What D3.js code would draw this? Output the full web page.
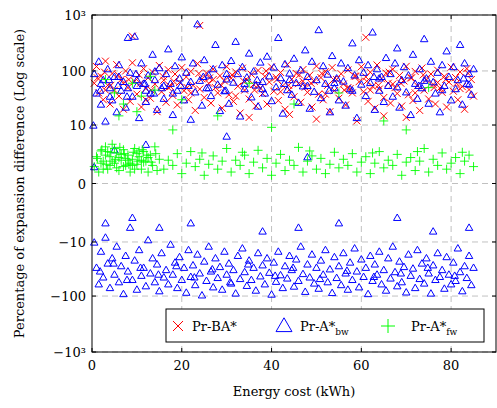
<!DOCTYPE html>
<html>
<head>
<meta charset="utf-8">
<script src="https://cdn.jsdelivr.net/npm/d3@7"></script>
<style>
  body { margin: 0; background: #fff; }
</style>
</head>
<body>
<svg id="chart" width="497" height="408" font-family="'DejaVu Serif', 'Liberation Serif', serif"></svg>
<script>
const xTicks = [0, 20, 40, 60, 80];
const yTicks = [-1000, -100, -10, 0, 10, 100, 1000];
const yTickLabels = ["−10³", "−100", "−10", "0", "10", "100", "10³"];

// Pr-BA* (red crosses)
const prBA = [
  [0.5,60],[1,120],[1.5,40],[2,80],[2.5,30],[3,150],[3.5,55],[4,25],[4.5,90],[5,45],[5.5,130],[6,35],[6.5,70],[7,20],[7.5,100],[8,50],[8.5,28],[9,140],[9.5,65],[10,38],
  [10.5,85],[11,22],[11.5,110],[12,48],[12.5,75],[13,32],[13.5,95],[14,58],[14.5,18],[15,125],[15.5,42],[16,68],[16.5,27],[17,105],[17.5,52],[18,36],[18.5,88],[19,24],[19.5,62],[20,115],
  [20.5,44],[21,78],[21.5,30],[22,98],[22.5,55],[23,19],[23.5,135],[24,47],[24.5,72],[25,33],[25.5,92],[26,60],[26.5,26],[27,108],[27.5,50],[28,40],[28.5,82],[29,21],[29.5,66],[30,120],
  [30.5,37],[31,74],[31.5,28],[32,96],[32.5,53],[33,17],[33.5,112],[34,45],[34.5,69],[35,31],[35.5,87],[36,57],[36.5,23],[37,102],[37.5,49],[38,39],[38.5,80],[39,25],[39.5,63],[40,118],
  [40.5,43],[41,77],[41.5,29],[42,94],[42.5,54],[43,20],[43.5,130],[44,46],[44.5,71],[45,34],[45.5,90],[46,59],[46.5,27],[47,106],[47.5,51],[48,41],[48.5,84],[49,22],[49.5,65],[50,122],
  [50.5,38],[51,76],[51.5,30],[52,97],[52.5,55],[53,18],[53.5,115],[54,44],[54.5,70],[55,32],[55.5,89],[56,58],[56.5,24],[57,104],[57.5,48],[58,40],[58.5,81],[59,12],[59.5,64],[60,119],
  [60.5,42],[61,78],[61.5,28],[62,95],[62.5,53],[63,21],[63.5,128],[64,47],[64.5,72],[65,33],[65.5,91],[66,60],[66.5,26],[67,107],[67.5,50],[68,39],[68.5,83],[69,23],[69.5,66],[70,121],
  [70.5,37],[71,75],[71.5,29],[72,98],[72.5,54],[73,19],[73.5,113],[74,45],[74.5,69],[75,31],[75.5,88],[76,57],[76.5,25],[77,103],[77.5,49],[78,41],[78.5,80],[79,22],[79.5,63],[80,117],
  [80.5,43],[81,76],[81.5,30],[82,96],[82.5,52],[83,20],[83.5,110],[84,46],[84.5,70],[85,35],
  [3,45],[7,60],[12,30],[17,50],[22,40],[27,70],[32,35],[37,55],[42,42],[47,65],[52,38],[57,50],[62,45],[67,58],[72,40],[77,62],[82,48],[9,420],[24,650],[61,400],
  [1.2,75],[2.8,95],[4.2,55],[5.8,85],[8.2,70],[10.8,60],[13.2,45],[15.8,80],[18.2,65],[21.2,50],[23.8,90],[26.2,75],[28.8,55],[31.2,85],[33.8,65],[36.2,45],[38.8,100],[41.2,70],[43.8,55],[46.2,85],
  [48.8,60],[51.2,90],[53.8,70],[56.2,45],[58.8,80],[61.2,65],[63.8,55],[66.2,95],[68.8,60],[71.2,75],[73.8,85],[76.2,50],[78.8,70],[81.2,60],[83.8,90],[35,14],[50,13],[65,15],[44,16],[70,14]
];

// Pr-A*bw (blue triangles), positive part
const prAbwPos = [
  [0.5,90],[1,40],[1.5,150],[2,25],[2.5,70],[3,12],[3.5,110],[4,50],[4.5,30],[5,80],[5.5,18],[6,130],[6.5,45],[7,65],[7.5,22],[8,400],[8.5,95],[9,35],[9.5,420],[10,55],
  [10.5,14],[11,140],[11.5,60],[12,28],[12.5,85],[13,40],[13.5,200],[14,70],[14.5,20],[15,115],[15.5,50],[16,32],[16.5,90],[17,250],[17.5,60],[18,16],[18.5,125],[19,45],[19.5,75],[20,180],
  [20.5,30],[21,95],[21.5,55],[22,13],[22.5,140],[23,42],[23.5,700],[24,68],[24.5,24],[25,160],[25.5,50],[26,85],[26.5,36],[27,110],[27.5,300],[28,58],[28.5,19],[29,130],[29.5,44],[30,72],
  [30.5,26],[31,155],[31.5,63],[32,340],[32.5,90],[33,15],[33.5,120],[34,48],[34.5,78],[35,210],[35.5,34],[36,100],[36.5,56],[37,23],[37.5,145],[38,65],[38.5,40],[39,185],[39.5,82],[40,29],
  [40.5,118],[41,52],[41.5,400],[42,76],[42.5,17],[43,135],[43.5,46],[44,92],[44.5,38],[45,170],[45.5,62],[46,27],[46.5,105],[47,54],[47.5,240],[48,80],[48.5,21],[49,150],[49.5,43],[50,70],
  [50.5,550],[51,33],[51.5,125],[52,60],[52.5,88],[53,18],[53.5,190],[54,50],[54.5,75],[55,30],[55.5,140],[56,66],[56.5,24],[57,115],[57.5,48],[58,320],[58.5,85],[59,14],[59.5,160],[60,58],
  [60.5,95],[61,36],[61.5,130],[62,62],[62.5,500],[63,20],[63.5,110],[64,45],[64.5,80],[65,28],[65.5,175],[66,55],[66.5,90],[67,35],[67.5,140],[68,260],[68.5,22],[69,70],[69.5,120],[70,42],
  [70.5,85],[71,16],[71.5,200],[72,60],[72.5,32],[73,110],[73.5,50],[74,380],[74.5,75],[75,26],[75.5,150],[76,64],[76.5,40],[77,95],[77.5,18],[78,130],[78.5,55],[79,230],[79.5,80],[80,30],
  [80.5,120],[81,48],[81.5,70],[82,300],[82.5,25],[83,140],[83.5,60],[84,90],[84.5,38],[85,110],
  [2,60],[4,35],[6,80],[8,50],[10,70],[12,45],[14,100],[16,55],[18,40],[22,65],[26,50],[30,90],[34,60],[38,48],[44,70],[48,55],[54,62],[58,45],[64,75],[68,52],[74,68],[78,46],[84,58],[0.3,10],[0.5,1],
  [1.8,45],[3.8,70],[5.8,55],[7.8,35],[9.8,90],[11.8,60],[13.8,40],[19.8,55],[24.8,80],[29.8,45],[36.8,70],[42.8,60],[52.8,45],[62.8,80],[72.8,55],[82.8,75],[5,3],[12,4],[30,6],[48,2]
];

// Pr-A*bw (blue triangles), negative part
const prAbwNeg = [
  [0.5,-10],[1,-30],[1.5,-60],[2,-15],[2.5,-45],[3,-8],[3.5,-25],[4,-70],[4.5,-20],[5,-40],[5.5,-12],[6,-55],[6.5,-28],[7,-90],[7.5,-18],[8,-35],[8.5,-5],[9,-50],[9.5,-22],[10,-75],
  [10.5,-14],[11,-42],[11.5,-30],[12,-65],[12.5,-9],[13,-38],[13.5,-20],[14,-55],[14.5,-26],[15,-80],[15.5,-16],[16,-45],[16.5,-33],[17,-60],[17.5,-11],[18,-40],[18.5,-24],[19,-70],[19.5,-19],[20,-50],
  [20.5,-30],[21,-85],[21.5,-14],[22,-44],[22.5,-27],[23,-62],[23.5,-17],[24,-38],[24.5,-95],[25,-23],[25.5,-52],[26,-12],[26.5,-35],[27,-68],[27.5,-20],[28,-46],[28.5,-29],[29,-75],[29.5,-15],[30,-40],
  [30.5,-25],[31,-58],[31.5,-33],[32,-88],[32.5,-18],[33,-48],[33.5,-13],[34,-36],[34.5,-64],[35,-22],[35.5,-50],[36,-30],[36.5,-78],[37,-16],[37.5,-43],[38,-27],[38.5,-60],[39,-20],[39.5,-37],[40,-92],
  [40.5,-24],[41,-54],[41.5,-15],[42,-41],[42.5,-70],[43,-28],[43.5,-47],[44,-18],[44.5,-33],[45,-66],[45.5,-21],[46,-52],[46.5,-12],[47,-39],[47.5,-82],[48,-26],[48.5,-45],[49,-17],[49.5,-58],[50,-30],
  [50.5,-72],[51,-22],[51.5,-40],[52,-14],[52.5,-55],[53,-32],[53.5,-86],[54,-19],[54.5,-46],[55,-28],[55.5,-62],[56,-16],[56.5,-38],[57,-75],[57.5,-24],[58,-50],[58.5,-13],[59,-35],[59.5,-68],[60,-21],
  [60.5,-44],[61,-30],[61.5,-90],[62,-18],[62.5,-52],[63,-26],[63.5,-40],[64,-15],[64.5,-60],[65,-33],[65.5,-78],[66,-20],[66.5,-47],[67,-12],[67.5,-36],[68,-65],[68.5,-23],[69,-55],[69.5,-29],[70,-84],
  [70.5,-17],[71,-42],[71.5,-31],[72,-70],[72.5,-14],[73,-48],[73.5,-25],[74,-58],[74.5,-20],[75,-38],[75.5,-88],[76,-27],[76.5,-50],[77,-16],[77.5,-44],[78,-33],[78.5,-72],[79,-19],[79.5,-40],[80,-60],
  [80.5,-24],[81,-52],[81.5,-13],[82,-36],[82.5,-80],[83,-28],[83.5,-46],[84,-18],[84.5,-62],[85,-30],
  [3,-4],[9,-3],[15,-5],[22,-4],[38,-6],[46,-5],[55,-4],[68,-3],[76,-6],[84,-5],
  [1.8,-35],[4.8,-25],[7.8,-50],[10.8,-30],[14.8,-40],[18.8,-28],[22.8,-45],[26.8,-32],[30.8,-55],[34.8,-26],[40.8,-42],[44.8,-30],[50.8,-48],[56.8,-34],[62.8,-44],[68.8,-38],[74.8,-30],[80.8,-42]
];

// Pr-A*fw (green plus)
const prAfw = [
  [0.5,1],[1,2],[1.5,0.6],[2,2.8],[2.5,1.5],[3,3.5],[3.5,0.8],[4,2],[4.5,4],[5,1.3],[5.5,2.5],[6,0.7],[6.5,1.6],[7,3],[7.5,1.1],[8,2.2],[8.5,0.6],[9,1.7],[9.5,3.2],[10,1.2],
  [10.5,2],[11,0.8],[11.5,2.7],[12,1.5],[12.5,0.6],[13,2.2],[13.5,1.1],[14,3.5],[14.5,0.7],[15,1.7],[2,1.3],[3,2.2],[4,1.1],[5,3.2],[6,1.9],[7,1],[8,1.6],[9,1.1],[10,2.4],[11,1.6],
  [2.5,0.8],[3.5,2.7],[4.5,1.5],[5.5,0.9],[6.5,2.3],[7.5,1.8],[8.5,1.3],[9.5,0.8],[10.5,2.8],[11.5,1.4],[12.5,1.9],[3,70],[5,40],[7,25],[9,60],[11,35],[13,80],[6,15],[10,18],[14,45],
  [16,0.8],[17,1.6],[18,1.1],[19,2.4],[20,0.5],[21,1.3],[22,2.7],[23,1],[24,1.7],[25,0.4],[26,1.2],[27,2.1],[28,0.8],[29,1.5],[30,3.2],[31,0.6],[32,1.6],[33,1.1],[34,2.2],[35,0.5],
  [36,1.4],[37,2.9],[38,0.9],[39,1.8],[40,0.4],[41,1.3],[42,2.3],[43,0.7],[44,1.6],[45,1.1],[46,3.4],[47,0.6],[48,1.5],[49,2.1],[50,0.8],[51,1.8],[52,0.5],[53,1.2],[54,2.6],[55,0.9],
  [56,1.7],[57,1.1],[58,2.4],[59,0.6],[60,1.4],[61,2],[62,0.5],[63,1.3],[64,2.7],[65,0.9],[66,1.6],[67,1.1],[68,2.3],[69,0.4],[70,1.4],[71,1.9],[72,0.7],[73,1.5],[74,3.2],[75,0.6],
  [76,1.7],[77,1.1],[78,2.5],[79,0.8],[80,1.3],[81,1.9],[82,0.5],[83,1.5],[84,2.2],[85,1],[20,30],[28,15],[35,60],[45,25],[55,40],[65,12],[75,50],[18,8],[40,9],[70,8],
  [1.2,1.8],[2.2,3],[3.2,1.2],[4.2,2.6],[5.2,1.7],[6.2,3.4],[7.2,2.4],[8.2,1.2],[9.2,2.6],[10.2,1.5],[11.2,3],[12.2,2.2],[13.2,1.4],[14.2,2.4],[24.5,2.5],[33.5,2.6],[48.5,2.8],[62.5,2.5],[72.5,2.7],[82.5,2.6]
];

const svg = d3.select("#chart");
const margin = { left: 92, top: 15, right: 1, bottom: 56 };
const W = 497, H = 408;

const x = d3.scaleLinear().domain([0, 90]).range([margin.left, W - margin.right]);
const y = d3.scaleSymlog().constant(1).domain([-1000, 1000]).range([H - margin.bottom, margin.top]);

// grid
const grid = svg.append("g").attr("stroke", "#b0b0b0").attr("stroke-dasharray", "6,4").attr("stroke-width", 0.8);
xTicks.slice(1).forEach(t => grid.append("line").attr("x1", x(t)).attr("x2", x(t)).attr("y1", y(-1000)).attr("y2", y(1000)));
yTicks.forEach(t => grid.append("line").attr("x1", x(0)).attr("x2", x(90)).attr("y1", y(t)).attr("y2", y(t)));

const marks = svg.append("g");
const s = 3.5;
marks.selectAll(".ba").data(prBA).enter().append("path")
  .attr("d", d => `M${x(d[0]) - s},${y(d[1]) - s}L${x(d[0]) + s},${y(d[1]) + s}M${x(d[0]) - s},${y(d[1]) + s}L${x(d[0]) + s},${y(d[1]) - s}`)
  .attr("stroke", "#ff0000").attr("stroke-width", 1).attr("fill", "none");

const tri = d3.symbol().type(d3.symbolTriangle).size(24);
marks.selectAll(".bw").data(prAbwPos.concat(prAbwNeg)).enter().append("path")
  .attr("d", tri)
  .attr("transform", d => `translate(${x(d[0])},${y(d[1]) + 1})`)
  .attr("stroke", "#0000ff").attr("stroke-width", 1).attr("fill", "none");

const p = 4.5;
marks.selectAll(".fw").data(prAfw).enter().append("path")
  .attr("d", d => `M${x(d[0]) - p},${y(d[1])}L${x(d[0]) + p},${y(d[1])}M${x(d[0])},${y(d[1]) - p}L${x(d[0])},${y(d[1]) + p}`)
  .attr("stroke", "#00ff00").attr("stroke-width", 0.9).attr("fill", "none");

// frame
svg.append("rect").attr("x", x(0)).attr("y", y(1000)).attr("width", x(90) - x(0)).attr("height", y(-1000) - y(1000))
  .attr("fill", "none").attr("stroke", "#000").attr("stroke-width", 1);

// ticks
const ax = svg.append("g");
xTicks.forEach(t => {
  ax.append("line").attr("x1", x(t)).attr("x2", x(t)).attr("y1", y(-1000)).attr("y2", y(-1000) - 4).attr("stroke", "#000");
  ax.append("line").attr("x1", x(t)).attr("x2", x(t)).attr("y1", y(1000)).attr("y2", y(1000) + 4).attr("stroke", "#000");
  ax.append("text").attr("x", x(t)).attr("y", y(-1000) + 18).attr("text-anchor", "middle").attr("font-size", 13).text(t);
});
yTicks.forEach((t, i) => {
  ax.append("line").attr("x1", x(0)).attr("x2", x(0) + 4).attr("y1", y(t)).attr("y2", y(t)).attr("stroke", "#000");
  ax.append("line").attr("x1", x(90)).attr("x2", x(90) - 4).attr("y1", y(t)).attr("y2", y(t)).attr("stroke", "#000");
  ax.append("text").attr("x", x(0) - 6).attr("y", y(t) + 5).attr("text-anchor", "end").attr("font-size", 13).text(yTickLabels[i]);
});

svg.append("text").attr("x", (x(0) + x(90)) / 2).attr("y", 396).attr("text-anchor", "middle").attr("font-size", 13).text("Energy cost (kWh)");
svg.append("text").attr("transform", `translate(24,${(y(1000) + y(-1000)) / 2}) rotate(-90)`)
  .attr("text-anchor", "middle").attr("font-size", 13).text("Percentage of expansion difference (Log scale)");

// legend
const lg = svg.append("g").attr("transform", "translate(166,309)");
lg.append("rect").attr("width", 318).attr("height", 33).attr("fill", "#fff").attr("stroke", "#000");
const ly = 17;
lg.append("path").attr("d", `M${12 - 5},${ly - 5}L${12 + 5},${ly + 5}M${12 - 5},${ly + 5}L${12 + 5},${ly - 5}`).attr("stroke", "#ff0000").attr("stroke-width", 1);
lg.append("text").attr("x", 26).attr("y", ly + 5).attr("font-size", 13).text("Pr-BA*");
lg.append("path").attr("d", d3.symbol().type(d3.symbolTriangle).size(110)).attr("transform", `translate(118,${ly + 1})`).attr("stroke", "#0000ff").attr("fill", "none");
const t2 = lg.append("text").attr("x", 134).attr("y", ly + 5).attr("font-size", 13).text("Pr-A*");
t2.append("tspan").attr("font-size", 9).attr("dy", 4).text("bw");
lg.append("path").attr("d", `M${222 - 7},${ly}L${222 + 7},${ly}M222,${ly - 7}L222,${ly + 7}`).attr("stroke", "#00ff00").attr("stroke-width", 1);
const t3 = lg.append("text").attr("x", 245).attr("y", ly + 5).attr("font-size", 13).text("Pr-A*");
t3.append("tspan").attr("font-size", 9).attr("dy", 4).text("fw");
</script>
</body>
</html>
